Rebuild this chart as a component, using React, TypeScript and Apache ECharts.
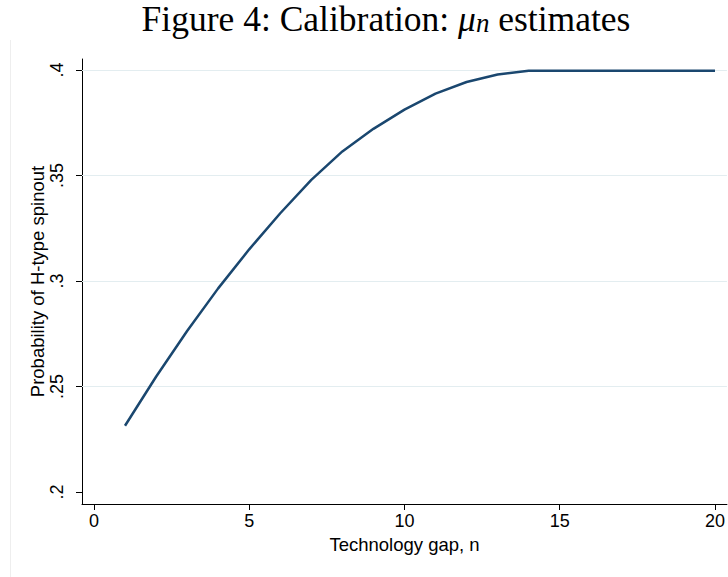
import React, { useEffect, useRef } from "react";
import * as echarts from "echarts";

const gapN = [1, 2, 3, 4, 5, 6, 7, 8, 9, 10, 11, 12, 13, 14, 15, 16, 17, 18, 19, 20];
const muValues = [
  0.2314, 0.2546, 0.2763, 0.2965, 0.315, 0.3321, 0.3479, 0.3614, 0.3721, 0.3812,
  0.3888, 0.3943, 0.3979, 0.3996, 0.3996, 0.3996, 0.3996, 0.3996, 0.3996, 0.3996,
];
const xTicks = [0, 5, 10, 15, 20];
const yTicks = [0.2, 0.25, 0.3, 0.35, 0.4];
const yGridValues = [0.25, 0.3, 0.35, 0.4];
const xLabel = "Technology gap, n";
const yLabel = "Probability of H-type spinout";

export default function App() {
  const ref = useRef<HTMLDivElement>(null);
  useEffect(() => {
    if (!ref.current) return;
    const chart = echarts.init(ref.current, undefined, { renderer: "svg" });
    const sans = "Liberation Sans, Arial, sans-serif";
    const serif = "Liberation Serif, Times New Roman, serif";
    chart.setOption({
      animation: false,
      backgroundColor: "#ffffff",
      grid: { left: 82, top: 59, width: 648, height: 445, containLabel: false },
      graphic: [
        {
          type: "line",
          shape: { x1: 10.5, y1: 40, x2: 10.5, y2: 577 },
          style: { stroke: "#eeeeee", lineWidth: 1 },
          silent: true,
        },
        {
          type: "text",
          x: 386,
          y: 18.5,
          style: {
            text: "{t|Figure 4: Calibration: }{mu|μ}{s|n}{t| estimates}",
            align: "center",
            verticalAlign: "middle",
            rich: {
              t: { fontFamily: serif, fontSize: 35.5, lineHeight: 35, fill: "#000" },
              mu: { fontFamily: serif, fontStyle: "italic", fontSize: 35.5, lineHeight: 35, fill: "#000" },
              s: { fontFamily: serif, fontStyle: "italic", fontSize: 27, lineHeight: 23, verticalAlign: "bottom", fill: "#000" },
            },
          },
        },
      ],
      xAxis: {
        type: "value",
        min: -0.385,
        max: 20.385,
        name: xLabel,
        nameLocation: "middle",
        nameGap: 24,
        nameTextStyle: { fontFamily: sans, fontSize: 18.5, color: "#000" },
        axisLine: { show: true, onZero: false, lineStyle: { color: "#000", width: 1 } },
        axisTick: { show: true, length: 6, customValues: xTicks, lineStyle: { color: "#000" } },
        axisLabel: {
          customValues: xTicks,
          fontFamily: sans,
          fontSize: 18,
          color: "#000",
          margin: 8,
          formatter: (v: number) => String(v),
        },
        splitLine: { show: false },
      },
      yAxis: {
        type: "value",
        min: 0.19431,
        max: 0.40521,
        name: yLabel,
        nameLocation: "middle",
        nameGap: 35,
        nameMoveOverlap: false,
        nameTextStyle: { fontFamily: sans, fontSize: 18.5, color: "#000" },
        axisLine: { show: true, onZero: false, lineStyle: { color: "#000", width: 1 } },
        axisTick: { show: true, length: 6, customValues: yTicks, lineStyle: { color: "#000" } },
        axisLabel: {
          customValues: yTicks,
          rotate: 90,
          fontFamily: sans,
          fontSize: 18,
          color: "#000",
          margin: 16,
          formatter: (v: number) => String(Number(v.toFixed(2))).replace(/^0\./, "."),
        },
        splitLine: { show: false },
      },
      series: [
        {
          type: "line",
          data: gapN.map((n, i) => [n, muValues[i]]),
          showSymbol: false,
          symbol: "none",
          lineStyle: { color: "#1a476f", width: 2.5 },
          itemStyle: { color: "#1a476f" },
          z: 3,
          markLine: {
            silent: true,
            symbol: ["none", "none"],
            label: { show: false },
            lineStyle: { color: "#e3edf0", width: 1, type: "solid" },
            data: yGridValues.map((v) => ({ yAxis: v })),
            z: 1,
          },
        },
      ],
    });
    return () => chart.dispose();
  }, []);
  return (
    <div
      ref={ref}
      style={{ position: "fixed", left: 0, top: 0, width: 728, height: 577, background: "#fff" }}
    />
  );
}
